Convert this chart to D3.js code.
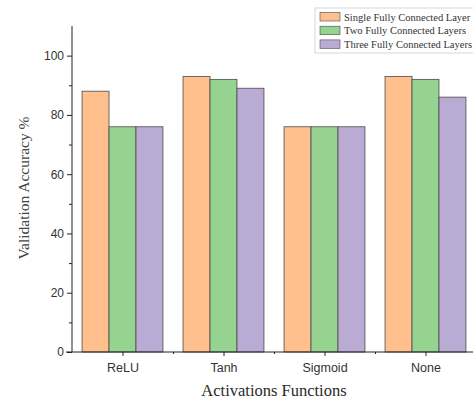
<!DOCTYPE html>
<html><head><meta charset="utf-8">
<script src="https://cdn.jsdelivr.net/npm/d3@7"></script>
<style>body{margin:0;background:#fff}svg{display:block}</style>
</head><body>
<script>
const categories = ["ReLU", "Tanh", "Sigmoid", "None"];
const seriesNames = ["Single Fully Connected Layer", "Two Fully Connected Layers", "Three Fully Connected Layers"];
const single = [88, 93, 76, 93];
const two = [76, 92, 76, 92];
const three = [76, 89, 76, 86];
const yTicks = [0, 20, 40, 60, 80, 100];
const colors = ["#FFC08E", "#96D391", "#BAABD5"];

const W = 473, H = 404;
const svg = d3.select("body").append("svg").attr("width", W).attr("height", H);
const series = [single, two, three];

const x = d3.scaleLinear().domain([0.5, 4.5]).range([72, 476]);
const y = d3.scaleLinear().domain([0, 110]).range([352, 26]);
const bw = 0.267;

series.forEach((vals, s) => {
  svg.append("g").selectAll("rect").data(vals).join("rect")
    .attr("x", (d, i) => x(i + 1 + (s - 1.5) * bw))
    .attr("width", x(bw) - x(0))
    .attr("y", d => y(d))
    .attr("height", d => y(0) - y(d))
    .attr("fill", colors[s])
    .attr("stroke", "#4a4a4a")
    .attr("stroke-width", 0.8);
});

// y axis
const yAxis = svg.append("g").attr("transform", `translate(${x(0.5)},0)`)
  .call(d3.axisLeft(y).tickValues(yTicks).tickSize(5).tickPadding(3));
svg.append("g").attr("transform", `translate(${x(0.5)},0)`)
  .call(d3.axisLeft(y).tickValues([10, 30, 50, 70, 90]).tickSize(3).tickFormat(""))
  .select(".domain").remove();
yAxis.select(".domain").attr("d", `M0,${y(110)}V${y(0)}`);

// x axis
const xAxis = svg.append("g").attr("transform", `translate(0,${y(0)})`)
  .call(d3.axisBottom(x).tickValues([1, 2, 3, 4]).tickSize(4).tickPadding(7)
    .tickFormat(d => categories[d - 1]));
svg.append("g").attr("transform", `translate(0,${y(0)})`)
  .call(d3.axisBottom(x).tickValues([1.5, 2.5, 3.5]).tickSize(2).tickFormat(""))
  .select(".domain").remove();
xAxis.select(".domain").attr("d", `M${x(0.5) - 6},0H${W}`);

svg.selectAll(".tick text").attr("font-family", "Liberation Sans, Arial, sans-serif")
  .attr("fill", "#333");
yAxis.selectAll(".tick text").attr("font-size", 12);
xAxis.selectAll(".tick text").attr("font-size", 12.5);
svg.selectAll(".domain, .tick line").attr("stroke", "#222").attr("stroke-width", 1);

svg.append("text").attr("transform", `translate(29,188) rotate(-90)`)
  .attr("text-anchor", "middle").attr("font-family", "Liberation Serif, Times New Roman, serif")
  .attr("font-size", 15.5).attr("fill", "#444").text("Validation Accuracy %");
svg.append("text").attr("x", 274).attr("y", 396)
  .attr("text-anchor", "middle").attr("font-family", "Liberation Serif, Times New Roman, serif")
  .attr("font-size", 16.5).attr("fill", "#2a2a2a").text("Activations Functions");

// legend
const lg = svg.append("g");
lg.append("rect").attr("x", 315).attr("y", 8).attr("width", 170).attr("height", 45)
  .attr("fill", "#fff").attr("stroke", "#ccc").attr("stroke-width", 0.8);
seriesNames.forEach((n, i) => {
  lg.append("rect").attr("x", 320).attr("y", 12.5 + i * 13.7).attr("width", 20).attr("height", 8.5)
    .attr("fill", colors[i]).attr("stroke", "#4a4a4a").attr("stroke-width", 0.6);
  lg.append("text").attr("x", 344).attr("y", 20.5 + i * 13.7)
    .attr("font-family", "Liberation Serif, Times New Roman, serif").attr("font-size", 10.5)
    .attr("fill", "#333").text(n);
});
</script>
</body></html>
